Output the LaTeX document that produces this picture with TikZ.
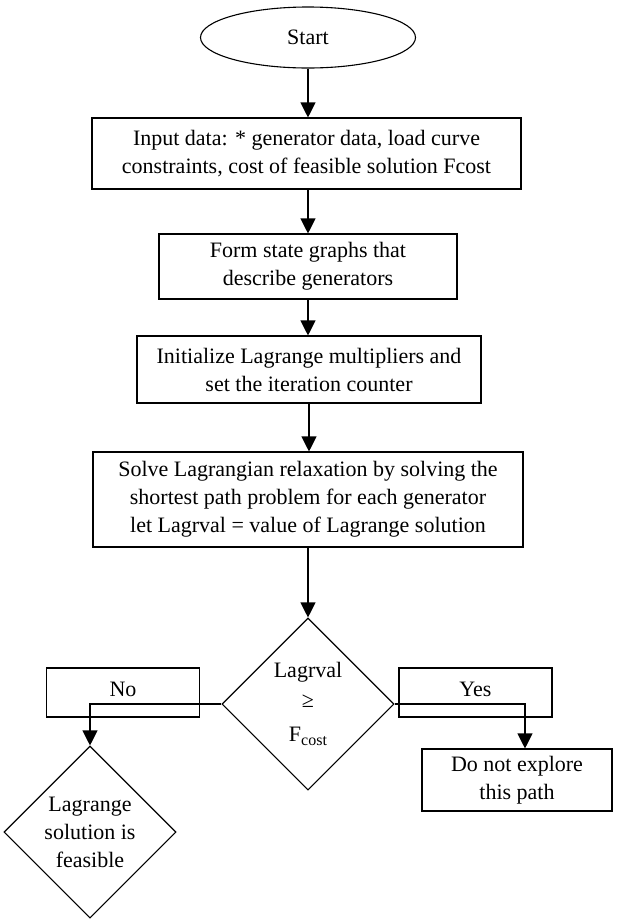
\documentclass[tikz,border=0pt]{standalone}
\usepackage{fontspec}
\setmainfont{Liberation Serif}
\usepackage{tikz}
\usetikzlibrary{arrows.meta, positioning, shapes.geometric, calc}

\newcommand{\sub}[1]{\raisebox{-0.4ex}{\fontsize{16}{16}\selectfont #1}}

\begin{document}
\begin{tikzpicture}[
  x=1pt, y=-1pt,
  font=\fontsize{22}{28}\selectfont,
  term/.style={ellipse, draw, line width=1.1pt, inner sep=0pt,
               minimum width=215pt, minimum height=61pt, align=center},
  proc/.style={rectangle, draw, line width=1.1pt, inner sep=0pt,
               minimum height=66pt, align=center},
  tag/.style={rectangle, draw, line width=1.1pt, inner sep=0pt,
              minimum width=153pt, minimum height=49pt, text depth=6pt},
  dec/.style={diamond, draw, line width=1.1pt, inner sep=0pt,
              minimum width=172pt, minimum height=172pt, align=center},
  arr/.style={-{Triangle[length=15pt, width=15pt]}, line width=1.1pt}
]
\useasboundingbox (0,0) rectangle (625,922);
%% main column (x = 308)
\node[term] (fc_start) at (308, 37.5) {Start};
\node[proc, minimum width=429pt, minimum height=71pt] (fc_input) at (306.5, 153.5)
  {Input data: * generator data, load curve\\constraints, cost of feasible solution Fcost};
\node[proc, minimum width=298pt, minimum height=65pt] (fc_graph) at (308, 266.5)
  {Form state graphs that\\describe generators};
\node[proc, minimum width=344pt, minimum height=67pt] (fc_init) at (309, 369.5)
  {Initialize Lagrange multipliers and\\set the iteration counter};
\node[proc, minimum width=430pt, minimum height=95pt] (fc_solve) at (308, 499.5)
  {Solve Lagrangian relaxation by solving the\\shortest path problem for each generator\\let Lagrval = value of Lagrange solution};
\node[dec] (fc_test) at (308, 704)
  {Lagrval\\[4pt]\raisebox{2pt}{≥}\\[4pt]F\sub{cost}};
%% branch labels and outcomes
\node[tag] (fc_no)  at (123, 692.5) {No};
\node[tag] (fc_yes) at (475.5, 692.5) {Yes};
\node[proc, minimum width=190pt, minimum height=62pt] (fc_skip) at (517, 780)
  {Do not explore\\this path};
\node[dec] (fc_feas) at (90, 832) {Lagrange\\solution is\\feasible};
%% arrows
\draw[arr] (fc_start) -- (fc_start |- fc_input.north);
\draw[arr] (fc_input.south -| fc_start) -- (fc_start |- fc_graph.north);
\draw[arr] (fc_graph) -- (fc_graph |- fc_init.north);
\draw[arr] (fc_init) -- (fc_init |- fc_solve.north);
\draw[arr] (fc_solve) -- (fc_test);
\draw[arr] (fc_test.west) -| (fc_feas.north);
\draw[arr] (fc_test.east) -| ([xshift=8pt]fc_skip.north);
\end{tikzpicture}
\end{document}
